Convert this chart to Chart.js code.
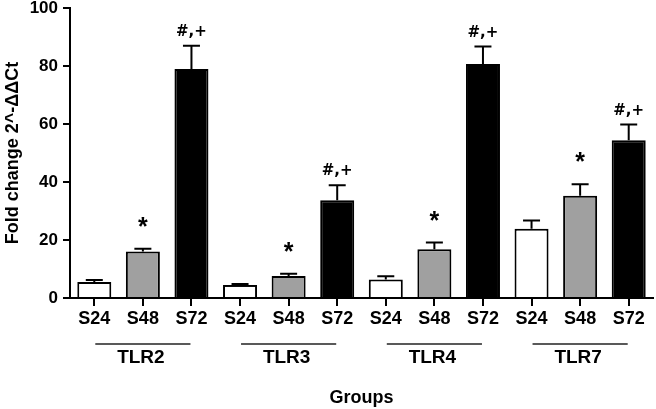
<!DOCTYPE html>
<html>
<head>
<meta charset="utf-8">
<script src="https://cdn.jsdelivr.net/npm/chart.js@4.4.1/dist/chart.umd.min.js"></script>
<style>
  html, body { margin: 0; padding: 0; background: #fff; }
  #wrap { width: 656px; height: 409px; }
</style>
</head>
<body>
<div id="wrap"><canvas id="c" width="656" height="409"></canvas></div>
<script>
// ---- data ----
const groups = ['TLR2', 'TLR3', 'TLR4', 'TLR7'];
const samples = ['S24', 'S48', 'S72'];
const tlr2Mean = [5.5, 16.0, 79.0];
const tlr3Mean = [4.5, 7.6, 33.7];
const tlr4Mean = [6.4, 16.8, 80.7];
const tlr7Mean = [23.9, 35.3, 54.4];
const tlr2Err = [0.7, 1.0, 8.0];
const tlr3Err = [0.3, 0.8, 5.2];
const tlr4Err = [1.1, 2.3, 6.0];
const tlr7Err = [2.8, 3.9, 5.4];
const marks = ['', '*', '#,+'];
const yTicks = [0, 20, 40, 60, 80, 100];
const sampleColors = ['#ffffff', '#a0a0a0', '#000000'];

// build flat arrays for the library
const labels = [];
const means = [];
const errs = [];
const annots = [];
const colors = [];
const meanSets = [tlr2Mean, tlr3Mean, tlr4Mean, tlr7Mean];
const errSets = [tlr2Err, tlr3Err, tlr4Err, tlr7Err];
groups.forEach((g, gi) => {
  samples.forEach((s, si) => {
    labels.push(s);
    means.push(meanSets[gi][si]);
    errs.push(errSets[gi][si]);
    annots.push(marks[si]);
    colors.push(sampleColors[si]);
  });
});

const FONT = "'Liberation Sans', Arial, Helvetica, sans-serif";
const MARKFONT = "'DejaVu Sans', 'Liberation Sans', sans-serif";

const extras = {
  id: 'extras',
  afterDatasetsDraw(chart) {
    const ctx = chart.ctx;
    const x = chart.scales.x;
    const y = chart.scales.y;
    ctx.save();
    // error bars (upper only)
    ctx.strokeStyle = '#000';
    ctx.lineWidth = 2;
    means.forEach((m, i) => {
      const px = x.getPixelForValue(i);
      const y0 = y.getPixelForValue(m);
      const y1 = y.getPixelForValue(m + errs[i]);
      ctx.beginPath();
      ctx.moveTo(px, y0);
      ctx.lineTo(px, y1);
      ctx.moveTo(px - 8.5, y1);
      ctx.lineTo(px + 8.5, y1);
      ctx.stroke();
      // annotations
      if (annots[i]) {
        ctx.fillStyle = '#000';
        ctx.textAlign = 'center';
        ctx.textBaseline = 'alphabetic';
        if (annots[i] === '*') {
          ctx.font = 'bold 25px ' + FONT;
          ctx.fillText(annots[i], px, y1 - 14);
        } else {
          ctx.font = 'bold 15px ' + MARKFONT;
          ctx.fillText(annots[i], px, y1 - 10);
        }
      }
    });
    // group lines and labels
    groups.forEach((g, gi) => {
      const a = x.getPixelForValue(gi * 3) + 1;
      const b = x.getPixelForValue(gi * 3 + 2) - 1;
      ctx.strokeStyle = '#222';
      ctx.lineWidth = 1.5;
      ctx.beginPath();
      ctx.moveTo(a, 344);
      ctx.lineTo(b, 344);
      ctx.stroke();
      ctx.fillStyle = '#000';
      ctx.font = 'bold 19px ' + FONT;
      ctx.textAlign = 'center';
      ctx.textBaseline = 'middle';
      ctx.fillText(g, (a + b) / 2 - 2, 358);
    });
    ctx.font = 'bold 18px ' + FONT;
    ctx.textAlign = 'center';
    ctx.textBaseline = 'middle';
    ctx.fillText('Groups', (chart.chartArea.left + chart.chartArea.right) / 2, 398);
    ctx.restore();
  }
};

new Chart(document.getElementById('c'), {
  type: 'bar',
  data: {
    labels: labels,
    datasets: [{
      data: means,
      backgroundColor: colors,
      borderColor: '#000',
      borderWidth: 2,
      borderSkipped: 'bottom',
      barPercentage: 0.7,
      categoryPercentage: 1.0
    }]
  },
  options: {
    responsive: false,
    animation: false,
    devicePixelRatio: 1,
    layout: { padding: { top: 8, right: 3, left: 0, bottom: 0 } },
    plugins: { legend: { display: false }, tooltip: { enabled: false } },
    scales: {
      x: {
        offset: true,
        afterFit(s) { s.height = 111; s.paddingLeft = 0; s.paddingRight = 0; },
        grid: { display: true, drawOnChartArea: false, drawTicks: true, tickLength: 8, offset: false, color: '#000', lineWidth: 2 },
        border: { display: true, color: '#000', width: 2 },
        ticks: { color: '#000', font: { family: FONT, size: 18, weight: 'bold' }, padding: 2, maxRotation: 0, autoSkip: false }
      },
      y: {
        min: 0,
        max: 100,
        afterFit(s) { s.width = 70; s.paddingTop = 0; s.paddingBottom = 0; },
        afterBuildTicks(s) { s.ticks = yTicks.map(v => ({ value: v })); },
        grid: { display: true, drawOnChartArea: false, drawTicks: true, tickLength: 7, color: '#000', lineWidth: 2 },
        border: { display: true, color: '#000', width: 2 },
        ticks: { color: '#000', font: { family: FONT, size: 17, weight: 'bold' }, padding: 5 },
        title: { display: true, text: 'Fold change 2^-ΔΔCt', color: '#000', font: { family: FONT, size: 18, weight: 'bold' }, padding: { top: 2, bottom: 0 } }
      }
    }
  },
  plugins: [extras]
});
</script>
</body>
</html>
